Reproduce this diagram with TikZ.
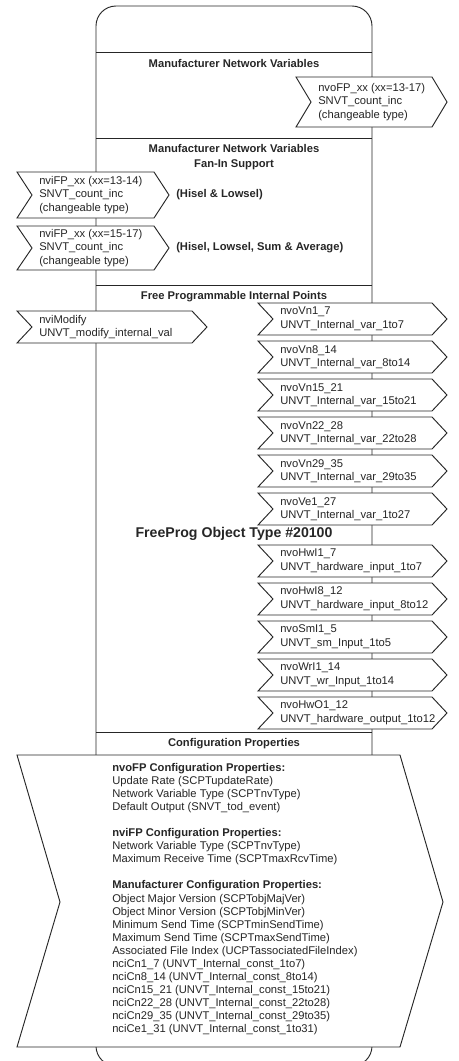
\documentclass[tikz,border=0pt]{standalone}
\usepackage{fontspec}
\setmainfont{Liberation Sans}
\tikzset{
  edgeline/.style={draw=black!85, line width=0.7pt},
  sigline/.style={edgeline, fill=white},
  sigtext/.style={anchor=west, align=left, inner sep=0pt, text=black!85, font=\fontsize{8.4}{10.2}\selectfont},
  hdr/.style={align=center, inner sep=0pt, text=black!85, font=\fontsize{8.4}{11}\selectfont\bfseries},
  sidelabel/.style={anchor=west, inner sep=0pt, text=black!85, font=\fontsize{8.4}{10.2}\selectfont\bfseries},
  titletext/.style={inner sep=0pt, text=black!85, font=\fontsize{10.6}{12}\selectfont\bfseries},
  cfgtext/.style={anchor=north west, align=left, inner sep=0pt, text=black!85, font=\fontsize{8.4}{9.8}\selectfont},
}
% #1 name, #2 left x, #3 right corner x, #4 top y, #5 bottom y, #6 text
\newcommand\sigbox[6]{%
  \draw[sigline] (#2,#4) -- (#3,#4) -- ({#3+15},{(#4+#5)/2}) -- (#3,#5) -- (#2,#5) -- ({#2+15},{(#4+#5)/2}) -- cycle;
  \node[sigtext] (#1) at ({#2+22},{(#4+#5)/2}) {#6};
}
\begin{document}
\begin{tikzpicture}[x=0.75pt,y=-0.75pt]
\useasboundingbox (0,0) rectangle (459,1061);
\begin{scope}
  \clip (0,0) rectangle (459,1061);
  \draw[edgeline, rounded corners=15pt] (96,6) rectangle (372,1066);
\end{scope}
% dividers
\draw[edgeline] (96,52) -- (372,52);
\draw[edgeline] (96,138) -- (372,138);
\draw[edgeline] (96,285) -- (372,285);
\draw[edgeline] (96,732) -- (372,732);
% headers
\node[hdr] (hmnv) at (234,63) {Manufacturer Network Variables};
\node[hdr] (hfan) at (234,157) {Manufacturer Network Variables\\Fan-In Support};
\node[hdr] (hfree) at (234,297) {Free Programmable Internal Points};
\node[hdr] (hcfg) at (234,744) {Configuration Properties};
\node[titletext] (title) at (234,534) {FreeProg Object Type \#20100};
% manufacturer NVs
\sigbox{nvofp}{296}{432}{77}{127}{nvoFP\_xx (xx=13-17)\\SNVT\_count\_inc\\(changeable type)}
% fan-in
\sigbox{nvifpa}{17}{154}{172}{218}{nviFP\_xx (xx=13-14)\\SNVT\_count\_inc\\(changeable type)}
\sigbox{nvifpb}{17}{154}{226}{270}{nviFP\_xx (xx=15-17)\\SNVT\_count\_inc\\(changeable type)}
\node[sidelabel] (hisela) at (176,195) {(Hisel \& Lowsel)};
\node[sidelabel] (hiselb) at (176,248) {(Hisel, Lowsel, Sum \& Average)};
% free programmable
\sigbox{nvimod}{17}{192}{311}{343}{nviModify\\UNVT\_modify\_internal\_val}
\sigbox{vna}{258}{432}{303}{335}{nvoVn1\_7\\UNVT\_Internal\_var\_1to7}
\sigbox{vnb}{258}{432}{341}{373}{nvoVn8\_14\\UNVT\_Internal\_var\_8to14}
\sigbox{vnc}{258}{432}{379}{411}{nvoVn15\_21\\UNVT\_Internal\_var\_15to21}
\sigbox{vnd}{258}{432}{417}{449}{nvoVn22\_28\\UNVT\_Internal\_var\_22to28}
\sigbox{vne}{258}{432}{455}{487}{nvoVn29\_35\\UNVT\_Internal\_var\_29to35}
\sigbox{vea}{258}{432}{493}{525}{nvoVe1\_27\\UNVT\_Internal\_var\_1to27}
\sigbox{hwia}{258}{432}{545}{577}{nvoHwI1\_7\\UNVT\_hardware\_input\_1to7}
\sigbox{hwib}{258}{432}{583}{615}{nvoHwI8\_12\\UNVT\_hardware\_input\_8to12}
\sigbox{smi}{258}{432}{621}{653}{nvoSmI1\_5\\UNVT\_sm\_Input\_1to5}
\sigbox{wri}{258}{432}{659}{691}{nvoWrI1\_14\\UNVT\_wr\_Input\_1to14}
\sigbox{hwo}{258}{432}{697}{729}{nvoHwO1\_12\\UNVT\_hardware\_output\_1to12}
% configuration properties
\draw[sigline] (17,755) -- (400,755) -- (443,902) -- (400,1047) -- (17,1047) -- (60,902) -- cycle;
\node[cfgtext] (cfg) at (112,763) {\textbf{nvoFP Configuration Properties:}\\
Update Rate (SCPTupdateRate)\\
Network Variable Type (SCPTnvType)\\
Default Output (SNVT\_tod\_event)\\[9.8pt]
\textbf{nviFP Configuration Properties:}\\
Network Variable Type (SCPTnvType)\\
Maximum Receive Time (SCPTmaxRcvTime)\\[9.8pt]
\textbf{Manufacturer Configuration Properties:}\\
Object Major Version (SCPTobjMajVer)\\
Object Minor Version (SCPTobjMinVer)\\
Minimum Send Time (SCPTminSendTime)\\
Maximum Send Time (SCPTmaxSendTime)\\
Associated File Index (UCPTassociatedFileIndex)\\
nciCn1\_7 (UNVT\_Internal\_const\_1to7)\\
nciCn8\_14 (UNVT\_Internal\_const\_8to14)\\
nciCn15\_21 (UNVT\_Internal\_const\_15to21)\\
nciCn22\_28 (UNVT\_Internal\_const\_22to28)\\
nciCn29\_35 (UNVT\_Internal\_const\_29to35)\\
nciCe1\_31 (UNVT\_Internal\_const\_1to31)};
\end{tikzpicture}
\end{document}
